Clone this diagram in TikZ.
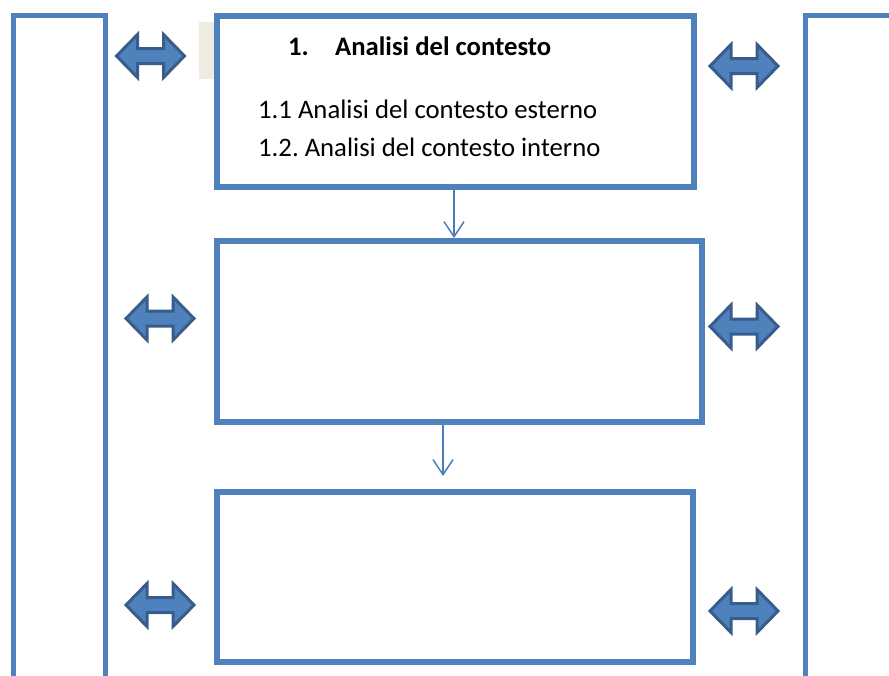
\documentclass[tikz,border=0pt]{standalone}
\usepackage{fontspec}
\setmainfont{Carlito}
\usetikzlibrary{arrows.meta}
\definecolor{accent}{HTML}{4F81BD}
\definecolor{accdark}{HTML}{385D8A}
\definecolor{thinline}{HTML}{4A7EBB}
\definecolor{paper}{HTML}{EEECE1}
\tikzset{
  box/.style={draw=accent, line width=6pt, rectangle, inner sep=0pt},
  column/.style={draw=accent, line width=5pt},
  conn/.style={draw=thinline, line width=1.5pt, -{Straight Barb[length=15pt,width=20pt,line width=1.5pt]}},
  label/.style={font=\fontsize{26.7}{32}\selectfont, inner sep=0pt, anchor=base west},
  pics/dblarrow/.style={code={
    \fill[accent, draw=accdark, line width=3pt, line join=miter]
      (-34,0) -- (-13,-21.5) -- (-13,-7.5) -- (13,-7.5) -- (13,-21.5) -- (34,0)
      -- (13,21.5) -- (13,7.5) -- (-13,7.5) -- (-13,21.5) -- cycle;
  }}
}
\begin{document}
\frenchspacing
\begin{tikzpicture}[x=1pt,y=-1pt]
\useasboundingbox (0,0) rectangle (889,675);
% side columns (open at the bottom / right)
\draw[column] (13,685) -- (13,15.5) -- (105.5,15.5) -- (105.5,685);
\draw[column] (805.5,685) -- (805.5,15.5) -- (900,15.5);
% paper background fragment
\fill[paper] (199,22) rectangle (216,79);
% boxes
\node[box, fill=white, minimum width=477pt, minimum height=170.5pt] (b1) at (455,101.25) {};
\node[box, minimum width=485pt, minimum height=181pt] (b2) at (459.5,331.5) {};
\node[box, minimum width=476pt, minimum height=169.5pt] (b3) at (455,576.75) {};
% texts
\node[label] (t0) at (288,55.5) {\bfseries 1.};
\node[label] (t1) at (335,55.5) {\bfseries Analisi del contesto};
\node[label] (t2) at (258,118.5) {1.1 Analisi del contesto esterno};
\node[label] (t3) at (258,156.5) {1.2. Analisi del contesto interno};
% connectors
\coordinate (x1) at (454,0);
\coordinate (x2) at (443,0);
\coordinate (e2) at (443,476);
\draw[conn] (b1.south -| x1) -- (b2.north -| x1);
\draw[conn] (b2.south -| x2) -- (e2);
% block double arrows
\pic at (150.5,56) {dblarrow};
\pic at (744,66) {dblarrow};
\pic at (160,318.5) {dblarrow};
\pic at (744,326.5) {dblarrow};
\pic at (160,605) {dblarrow};
\pic at (744,611) {dblarrow};
\end{tikzpicture}
\end{document}
